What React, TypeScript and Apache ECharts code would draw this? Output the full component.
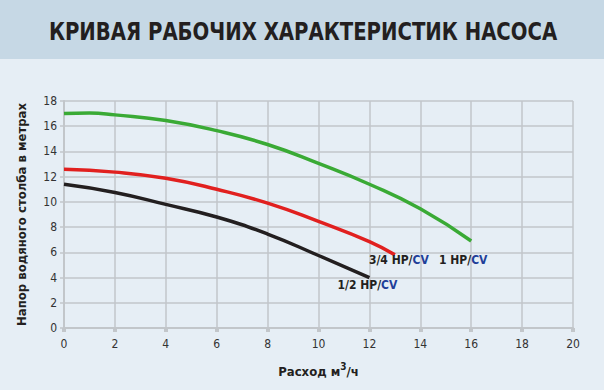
import React, { useEffect, useRef } from "react";
import * as echarts from "echarts";

const titleText = "КРИВАЯ РАБОЧИХ ХАРАКТЕРИСТИК НАСОСА";
const yAxisName = "Напор водяного столба в метрах";
const xTicks = [0, 2, 4, 6, 8, 10, 12, 14, 16, 18, 20];
const yTicks = [0, 2, 4, 6, 8, 10, 12, 14, 16, 18];

const hp1: [number, number][] = [[0, 17.0], [1, 17.05], [2, 16.9], [4, 16.45], [6, 15.65], [8, 14.55], [10, 13.05], [12, 11.4], [14, 9.45], [16, 6.9]];
const hp34: [number, number][] = [[0, 12.58], [2, 12.36], [4, 11.87], [6, 11.0], [8, 9.9], [10, 8.45], [12, 6.85], [13, 5.8]];
const hp12: [number, number][] = [[0, 11.4], [2, 10.75], [4, 9.8], [6, 8.8], [8, 7.45], [10, 5.75], [12, 4.0]];

const seriesNames = ["1 HP", "3/4 HP", "1/2 HP"];

const COND = "'Liberation Sans Narrow', 'DejaVu Sans Condensed', 'Roboto Condensed', sans-serif";
const GRIDC = "#c2c6ca";

export default function App() {
  const ref = useRef<HTMLDivElement>(null);
  useEffect(() => {
    document.body.style.margin = "0";
    const chart = echarts.init(ref.current!, undefined, { renderer: "svg" });
    const labelRich = {
      a: { fontFamily: COND, fontWeight: "bold", fontSize: 12, color: "#231f20" },
      b: { fontFamily: COND, fontWeight: "bold", fontSize: 12, color: "#1f3f99" },
    };
    const mkLabel = (name: string, offset: [number, number]) => ({
      show: true,
      formatter: `{a|${name}/}{b|CV}`,
      rich: labelRich,
      offset,
      align: "center",
      verticalAlign: "middle",
      distance: 0,
    });
    chart.setOption({
      animation: false,
      backgroundColor: "#e6eef5",
      graphic: [
        { type: "rect", left: 0, top: 0, shape: { width: 604, height: 59 }, style: { fill: "#c6d8e5" }, z: -1 },
        {
          type: "text", x: 303, y: 31, scaleX: 0.875, z: 5,
          style: {
            text: titleText, fontFamily: COND, fontWeight: "bold", fontSize: 25, fill: "#231f20",
            textAlign: "center", textVerticalAlign: "middle",
          },
        },
      ],
      grid: { left: 64, right: 31, top: 101, bottom: 62 },
      xAxis: {
        type: "value",
        min: 0,
        max: 20,
        interval: 2,
        name: "Расход м{s|3}/ч",
        nameLocation: "middle",
        nameGap: 33,
        nameTextStyle: {
          fontFamily: COND, fontWeight: "bold", fontSize: 13, color: "#231f20",
          rich: { s: { fontFamily: COND, fontWeight: "bold", fontSize: 10, color: "#231f20", verticalAlign: "bottom", padding: [0, 0, 10, 0] } },
        },
        axisLine: { show: true, lineStyle: { color: GRIDC, width: 2 } },
        axisTick: { show: true, length: 4, lineStyle: { color: GRIDC, width: 4 } },
        axisLabel: { fontFamily: COND, fontSize: 12, color: "#333", margin: 10, formatter: (v: number) => (xTicks.includes(v) ? String(v) : "") },
        splitLine: { show: true, lineStyle: { color: GRIDC, width: 1.5 } },
      },
      yAxis: {
        type: "value",
        min: 0,
        max: 18,
        interval: 2,
        name: yAxisName,
        nameLocation: "middle",
        nameGap: 36,
        nameTextStyle: { fontFamily: COND, fontWeight: "bold", fontSize: 13, color: "#231f20" },
        axisLine: { show: true, lineStyle: { color: GRIDC, width: 2 } },
        axisTick: { show: true, length: 4, lineStyle: { color: GRIDC, width: 1.5 } },
        axisLabel: { fontFamily: COND, fontSize: 12, color: "#333", margin: 7, formatter: (v: number) => (yTicks.includes(v) ? String(v) : "") },
        splitLine: { show: true, lineStyle: { color: GRIDC, width: 1.5 } },
      },
      series: [
        {
          name: seriesNames[0], type: "line", data: hp1, smooth: true, symbol: "none",
          lineStyle: { color: "#3aaa35", width: 3.5 },
          endLabel: mkLabel(seriesNames[0], [-8, 19]),
        },
        {
          name: seriesNames[1], type: "line", data: hp34, smooth: true, symbol: "none",
          lineStyle: { color: "#e1201f", width: 3.5 },
          endLabel: mkLabel(seriesNames[1], [4, 5]),
        },
        {
          name: seriesNames[2], type: "line", data: hp12, smooth: true, symbol: "none",
          lineStyle: { color: "#231f20", width: 3.5 },
          endLabel: mkLabel(seriesNames[2], [-2, 7]),
        },
      ],
    });
    return () => chart.dispose();
  }, []);
  return <div ref={ref} style={{ width: 604, height: 390 }} />;
}
